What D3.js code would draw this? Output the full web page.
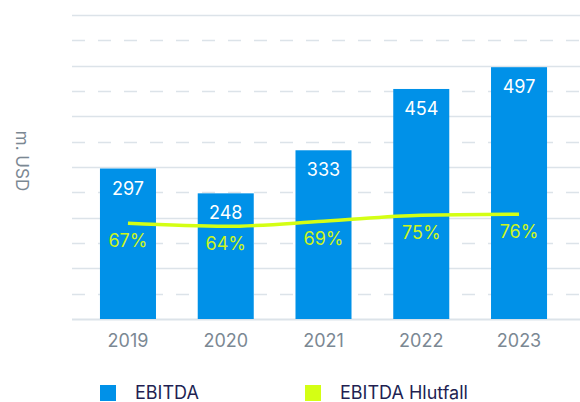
<!DOCTYPE html>
<html>
<head>
<meta charset="utf-8">
<script src="https://cdn.jsdelivr.net/npm/d3@7"></script>
<style>
  body { margin: 0; background: #fff; }
  svg { display: block; font-family: Inter, "Noto Sans", sans-serif; }
</style>
</head>
<body>
<script>
const years = ["2019", "2020", "2021", "2022", "2023"];
const ebitda = [297, 248, 333, 454, 497];
const ratio = [67, 64, 69, 75, 76];
const yTicks = [0, 50, 100, 150, 200, 250, 300, 350, 400, 450, 500, 550, 600];

const width = 580, height = 402;
const plotLeft = 72, plotBottom = 319, plotTop = 15;

const svg = d3.select(document.body).append("svg")
    .attr("width", width)
    .attr("height", height);

const x = d3.scaleBand()
    .domain(years)
    .range([plotLeft, 575])
    .paddingInner(0.427)
    .paddingOuter(0.286);

const y = d3.scaleLinear().domain([0, 600]).range([plotBottom, plotTop]);
// secondary scale for the ratio line
const yPct = d3.scaleLinear().domain([0, 100]).range([290.3, 190.3]);

// grid
svg.append("g")
  .selectAll("line")
  .data(yTicks)
  .join("line")
    .attr("x1", plotLeft)
    .attr("x2", width)
    .attr("y1", d => Math.round(y(d)) + 0.5)
    .attr("y2", d => Math.round(y(d)) + 0.5)
    .attr("stroke", "#dce3e9")
    .attr("stroke-width", d => d == 0 ? 2 : 1.3)
    .attr("stroke-dasharray", d => d % 100 == 0 ? null : "13,13");

// bars
svg.append("g")
  .selectAll("rect")
  .data(ebitda)
  .join("rect")
    .attr("x", (d, i) => x(years[i]))
    .attr("y", d => y(d))
    .attr("width", x.bandwidth())
    .attr("height", d => y(0) - y(d))
    .attr("fill", "#0091e8");

svg.append("g")
  .selectAll("text")
  .data(ebitda)
  .join("text")
    .attr("x", (d, i) => x(years[i]) + x.bandwidth() / 2)
    .attr("y", d => y(d) + 26)
    .attr("text-anchor", "middle")
    .attr("fill", "#fff")
    .attr("font-size", 18)
    .text(d => d);

// ratio line
const line = d3.line()
    .x((d, i) => x(years[i]) + x.bandwidth() / 2)
    .y(d => yPct(d))
    .curve(d3.curveMonotoneX);

svg.append("path")
    .datum(ratio)
    .attr("d", line)
    .attr("fill", "none")
    .attr("stroke", "#d4ff14")
    .attr("stroke-width", 3.5);

svg.append("g")
  .selectAll("text")
  .data(ratio)
  .join("text")
    .attr("x", (d, i) => x(years[i]) + x.bandwidth() / 2)
    .attr("y", d => yPct(d) + 24)
    .attr("text-anchor", "middle")
    .attr("fill", "#cdf51c")
    .attr("font-size", 18)
    .text(d => d + "%");

// x axis labels
const xAxis = svg.append("g")
    .attr("transform", `translate(0,${plotBottom})`)
    .call(d3.axisBottom(x).tickSize(0).tickPadding(15));
xAxis.select(".domain").remove();
xAxis.selectAll("text")
    .attr("font-family", "Inter, 'Noto Sans', sans-serif")
    .attr("font-size", 18)
    .attr("fill", "#7b8893");

// y title
svg.append("text")
    .attr("transform", "translate(16,161) rotate(90)")
    .attr("text-anchor", "middle")
    .attr("fill", "#7b8893")
    .attr("font-size", 17)
    .text("m. USD");

// legend
const legend = [
  { label: "EBITDA", color: "#0091e8", x: 100 },
  { label: "EBITDA Hlutfall", color: "#d4ff14", x: 305 }
];
const lg = svg.append("g")
  .selectAll("g")
  .data(legend)
  .join("g")
    .attr("transform", d => `translate(${d.x},385)`);
lg.append("rect")
    .attr("width", 16)
    .attr("height", 16)
    .attr("fill", d => d.color);
lg.append("text")
    .attr("x", 35)
    .attr("y", 14)
    .attr("fill", "#221f52")
    .attr("font-size", 18)
    .text(d => d.label);
</script>
</body>
</html>
